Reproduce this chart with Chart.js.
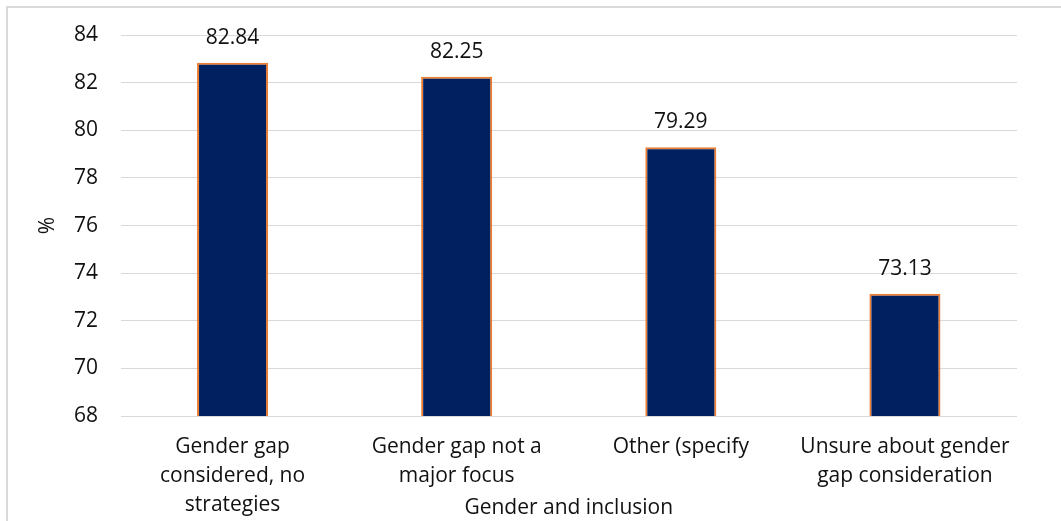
<!DOCTYPE html>
<html>
<head>
<meta charset="utf-8">
<script src="https://cdn.jsdelivr.net/npm/chart.js@4/dist/chart.umd.min.js"></script>
<style>
  html, body { margin: 0; padding: 0; background: #ffffff; }
  #wrap { position: relative; width: 1061px; height: 521px; overflow: hidden; }
  #frame { position: absolute; left: 6px; top: 6px; width: 1080px; height: 540px; border: 2px solid #d9d9d9; box-sizing: border-box; pointer-events: none; }
  canvas { position: absolute; left: 0; top: 0; }
</style>
</head>
<body>
<div id="wrap">
  <div id="frame"></div>
  <canvas id="chart" width="1061" height="521"></canvas>
</div>
<script>
// Share of respondents by gender-and-inclusion approach
const categories = [
  ["Gender gap", "considered, no", "strategies"],
  ["Gender gap not a", "major focus"],
  ["Other (specify"],
  ["Unsure about gender", "gap consideration"]
];
const values = [82.84, 82.25, 79.29, 73.13];
const yTicks = [68, 70, 72, 74, 76, 78, 80, 82, 84];

const FONT = "'Open Sans', 'Liberation Sans', sans-serif";
const TEXT = '#111111';
const GRID = '#d9d9d9';

// Value labels above each bar
const valueLabels = {
  id: 'valueLabels',
  afterDatasetsDraw(chart) {
    const ctx = chart.ctx;
    const meta = chart.getDatasetMeta(0);
    ctx.save();
    ctx.font = "21px " + FONT;
    ctx.fillStyle = TEXT;
    ctx.textAlign = 'center';
    ctx.textBaseline = 'middle';
    meta.data.forEach((bar, i) => {
      ctx.fillText(values[i].toFixed(2), bar.x, bar.y - 25);
    });
    ctx.restore();
  }
};

new Chart(document.getElementById('chart'), {
  type: 'bar',
  data: {
    labels: categories,
    datasets: [{
      data: values,
      backgroundColor: '#002060',
      borderColor: '#ED7D31',
      borderWidth: 2,
      barPercentage: 0.317,
      categoryPercentage: 1.0
    }]
  },
  options: {
    responsive: false,
    animation: false,
    layout: { padding: { left: 35, right: 44, top: 35, bottom: 0 } },
    plugins: {
      legend: { display: false },
      tooltip: { enabled: false }
    },
    scales: {
      x: {
        grid: { display: false, drawTicks: false },
        border: { display: false },
        afterFit(scale) { scale.height = 105; },
        ticks: {
          color: TEXT,
          font: { family: FONT, size: 21, lineHeight: 1.367 },
          padding: 17,
          maxRotation: 0,
          autoSkip: false
        },
        title: {
          display: true,
          text: 'Gender and inclusion',
          color: TEXT,
          font: { family: FONT, size: 21, lineHeight: 1.2 },
          padding: { top: 0, bottom: 0 }
        }
      },
      y: {
        min: yTicks[0],
        max: yTicks[yTicks.length - 1],
        afterBuildTicks(scale) {
          scale.ticks = yTicks.map(v => ({ value: v }));
        },
        afterFit(scale) { scale.width = 85.5; },
        grid: { color: GRID, lineWidth: 1, drawTicks: false },
        border: { display: false },
        ticks: {
          color: TEXT,
          font: { family: FONT, size: 21 },
          padding: 22.5
        },
        title: {
          display: true,
          text: '%',
          color: TEXT,
          font: { family: FONT, size: 21, lineHeight: 1.2 },
          padding: { top: 0, bottom: 13.6 }
        }
      }
    }
  },
  plugins: [valueLabels]
});
</script>
</body>
</html>
